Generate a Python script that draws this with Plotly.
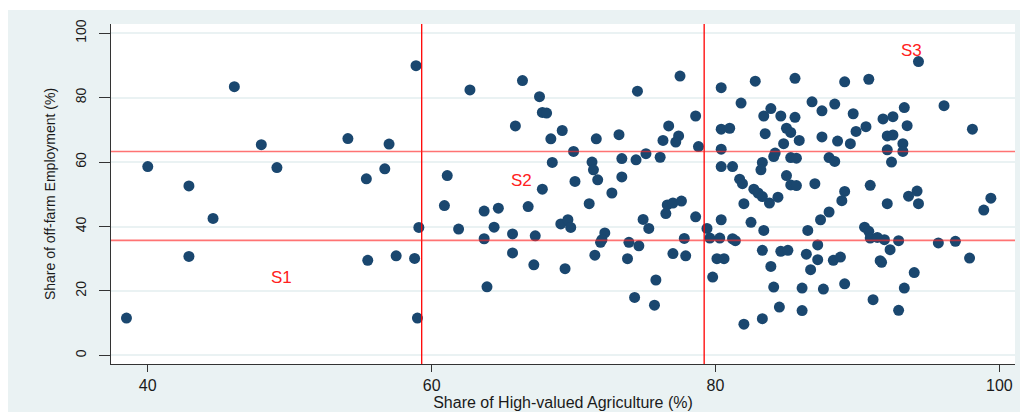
import plotly.graph_objects as go

# Share of High-valued Agriculture (%)
x_share = [
    38.5, 40.0, 42.9, 42.9, 44.6, 46.1, 48.0, 49.1, 54.1, 55.4, 55.5, 56.7, 57.0, 57.5, 58.9, 58.8, 59.1, 59.0,
    61.1, 60.9, 62.7, 66.4, 67.6, 67.8, 68.1, 65.9, 69.2, 68.4, 71.6, 73.2, 74.5, 77.5, 78.6, 76.7, 77.4, 76.3,
    77.2, 78.8, 70.0, 68.5, 71.3, 71.4, 73.4, 74.4, 75.1, 76.1, 70.1, 71.7, 73.4, 67.8, 72.7, 63.7, 64.7, 66.8,
    71.1, 69.1, 69.6, 69.8, 61.9, 64.4, 65.7, 67.3, 63.7, 74.9, 75.3, 72.2, 72.0, 71.9, 73.9, 74.6, 76.6, 77.0,
    77.6, 76.5, 78.6, 79.4, 77.8, 77.0, 77.9, 71.5, 73.8, 65.7, 67.2, 69.4, 63.9, 75.8, 74.3, 75.7, 79.8,
    80.4, 82.8, 85.6, 89.1, 81.8, 83.9, 83.4, 84.6, 85.6, 86.8, 87.5, 88.4, 89.7, 80.4, 81.0, 83.5, 85.0, 85.3,
    85.9, 84.8, 87.5, 88.6, 89.5, 89.9, 80.4, 84.2, 84.1, 85.3, 85.7, 88.0, 88.4, 83.3, 80.4, 81.2, 83.2, 85.0,
    81.7, 81.9, 85.3, 85.7, 87.0, 82.7, 83.0, 83.3, 83.8, 84.4, 82.0, 89.1, 88.9, 88.0, 94.3, 96.1, 98.1, 99.4,
    93.3, 93.5, 91.8, 92.5, 90.8, 92.1, 92.5, 93.2, 92.1, 93.2, 92.4, 90.6, 90.9, 94.2, 93.6, 94.3, 92.1, 98.9,
    80.4, 82.5, 87.4, 83.4, 86.5, 90.5, 79.6, 80.3, 81.2, 81.4, 83.3, 84.6, 85.1, 86.4, 87.2, 87.2, 88.3, 88.8,
    80.1, 80.6, 83.9, 86.7, 84.1, 86.1, 87.6, 89.1, 84.5, 86.1, 83.3, 82.0, 90.8, 90.9, 91.4, 91.9, 92.9, 92.3,
    95.7, 96.9, 97.9, 91.6, 91.7, 94.0, 93.3, 91.1, 92.9,
]

# Share of off-farm Employment (%)
y_share = [
    11.6, 58.6, 52.6, 30.7, 42.5, 83.4, 65.4, 58.3, 67.3, 54.8, 29.5, 57.9, 65.6, 30.9, 89.9, 30.1, 39.7, 11.6,
    55.8, 46.5, 82.4, 85.3, 80.3, 75.4, 75.2, 71.2, 69.8, 67.2, 67.2, 68.5, 82.0, 86.7, 74.3, 71.2, 68.1, 66.7,
    66.2, 64.8, 63.3, 59.9, 60.0, 57.6, 61.1, 60.7, 62.6, 61.5, 54.0, 54.5, 55.4, 51.6, 50.4, 44.8, 45.7, 46.2,
    47.1, 40.8, 42.1, 39.7, 39.2, 39.8, 37.7, 37.1, 36.2, 42.2, 39.4, 38.0, 35.9, 35.1, 35.1, 34.0, 46.7, 47.3,
    47.9, 44.0, 43.0, 39.4, 36.3, 31.6, 30.9, 31.1, 30.0, 31.8, 28.1, 26.9, 21.3, 23.4, 18.0, 15.6, 24.3,
    83.1, 85.1, 86.0, 84.9, 78.3, 76.6, 74.3, 74.3, 73.9, 78.7, 75.9, 78.0, 75.0, 70.2, 70.5, 68.8, 70.5, 69.2,
    66.7, 65.7, 67.8, 66.5, 65.7, 69.5, 64.0, 62.8, 61.7, 61.4, 61.2, 61.4, 60.2, 59.9, 58.6, 58.6, 57.6, 55.8,
    54.7, 53.3, 52.9, 52.7, 53.3, 51.6, 50.4, 49.3, 47.3, 49.1, 47.1, 50.9, 48.0, 44.5, 91.2, 77.5, 70.2, 48.8,
    76.9, 71.3, 73.4, 74.1, 85.7, 68.1, 68.4, 65.7, 63.8, 63.3, 60.0, 71.0, 52.8, 51.0, 49.4, 47.1, 47.1, 45.1,
    42.1, 41.3, 42.1, 38.8, 38.8, 39.8, 36.4, 36.4, 36.2, 35.6, 32.6, 32.3, 32.6, 31.4, 34.3, 29.7, 29.5, 30.5,
    30.0, 30.0, 27.6, 26.6, 21.2, 20.9, 20.6, 22.2, 15.0, 13.9, 11.4, 9.7, 38.5, 36.4, 36.6, 35.9, 35.6, 32.8,
    34.9, 35.4, 30.2, 29.4, 28.9, 25.7, 20.9, 17.3, 14.0,
]

x_ticks = [40, 60, 80, 100]
y_ticks = [0, 20, 40, 60, 80, 100]

v_lines = [59.3, 79.2]   # thresholds on High-valued Agriculture
h_lines = [35.7, 63.3]   # thresholds on off-farm Employment

region_labels = ["S1", "S2", "S3"]
region_x = [49.4, 66.3, 93.8]
region_y = [24.1, 54.2, 94.5]

BG = "#EAF2F3"
NAVY = "#1A476F"
FONT = "Liberation Sans, Arial, sans-serif"

fig = go.Figure()
fig.add_trace(go.Scatter(
    x=x_share, y=y_share, mode="markers",
    marker=dict(color=NAVY, size=11, line=dict(width=0)),
    showlegend=False, hoverinfo="x+y",
))

for v in v_lines:
    fig.add_vline(x=v, line_color="#FF0000", line_width=1.3, layer="above")
for h in h_lines:
    fig.add_hline(y=h, line_color="rgba(255,40,40,0.65)", line_width=1.6, layer="above")

for lab, lx, ly in zip(region_labels, region_x, region_y):
    fig.add_annotation(x=lx, y=ly, text=lab, showarrow=False,
                       font=dict(family=FONT, size=17, color="#FF2020"))

# thin white page strip above the grey graph region
fig.add_shape(type="rect", xref="paper", yref="paper", x0=-0.2, x1=1.2, y0=1.0412, y1=1.3,
              fillcolor="white", line_width=0, layer="below")

fig.update_layout(
    width=1020, height=404,
    margin=dict(l=103, r=13, t=16, b=48, autoexpand=False),
    paper_bgcolor=BG, plot_bgcolor="white",
    font=dict(family=FONT, color="#1a1a1a"),
    xaxis=dict(
        range=[37.41, 101.1], tickvals=x_ticks, showgrid=False, zeroline=False,
        showline=True, linecolor="#333333", linewidth=1,
        ticks="outside", ticklen=7, tickcolor="#333333", tickwidth=1,
        tickfont=dict(family=FONT, size=16, color="#1a1a1a"),
        title=dict(text="Share of High-valued Agriculture (%)", standoff=0,
                   font=dict(family=FONT, size=16, color="#1a1a1a")),
        automargin=False,
    ),
    yaxis=dict(
        range=[-2.67, 102.85], tickvals=y_ticks, showgrid=True, gridcolor=BG, gridwidth=1.5,
        zeroline=False, showline=True, linecolor="#333333", linewidth=1,
        ticks="outside", ticklen=11, tickcolor="#333333", tickwidth=1, tickangle=-90,
        tickfont=dict(family=FONT, size=14, color="#1a1a1a"),
        ticklabelstandoff=7,
        title=dict(text="Share of off-farm Employment (%)", standoff=14,
                   font=dict(family=FONT, size=14, color="#1a1a1a")),
        automargin=False,
    ),
)

fig.write_html("out.html")
